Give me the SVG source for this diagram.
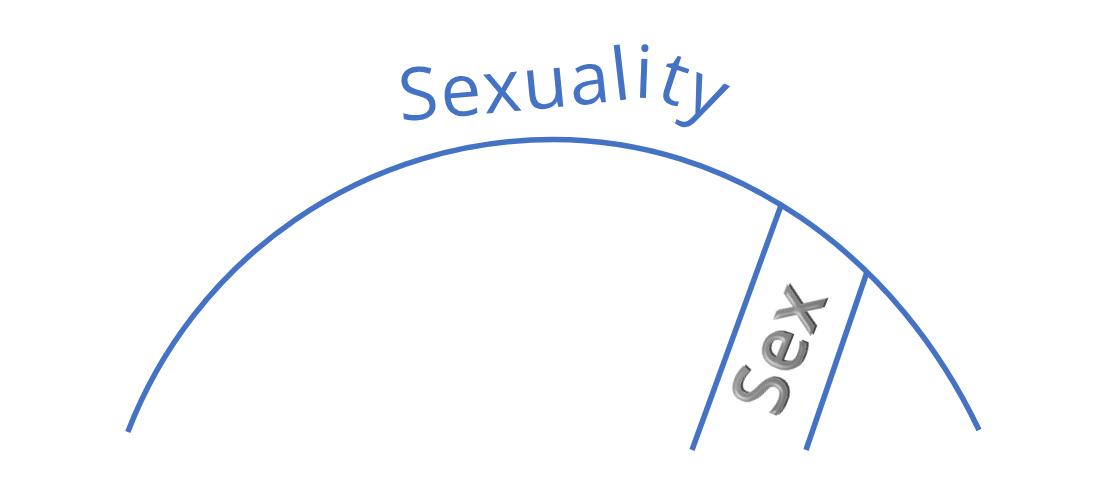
<svg xmlns="http://www.w3.org/2000/svg" width="1100" height="502" viewBox="0 0 1100 502">
  <style>
    .blue { fill: none; stroke: #4472C4; stroke-width: 5.5; stroke-linecap: butt; }
    .title { font-family: "Open Sans", "Liberation Sans", sans-serif; font-size: 73px; fill: #4472C4; letter-spacing: 2px; }
    .sex { font-family: "Open Sans", "Liberation Sans", sans-serif; font-size: 76px; font-weight: 600; fill: url(#gray); letter-spacing: 2px; }
  </style>
  <defs>
    <path id="titlePath" d="M400,121 Q560,108 640,98 Q660,95.5 735,132"/>
    <linearGradient id="gray" x1="0" y1="0" x2="0" y2="1">
      <stop offset="0" stop-color="#a0a0a0"/>
      <stop offset="1" stop-color="#6e6e6e"/>
    </linearGradient>
    <filter id="bevel" x="-20%" y="-20%" width="140%" height="140%">
      <feGaussianBlur in="SourceAlpha" stdDeviation="2" result="blur"/>
      <feSpecularLighting in="blur" surfaceScale="3" specularConstant="0.6" specularExponent="18" lighting-color="#ffffff" result="spec">
        <feDistantLight azimuth="200" elevation="40"/>
      </feSpecularLighting>
      <feComposite in="spec" in2="SourceAlpha" operator="in" result="specIn"/>
      <feOffset in="SourceAlpha" dx="1.5" dy="1.5" result="off"/>
      <feComposite in="off" in2="SourceAlpha" operator="out" result="rim"/>
      <feFlood flood-color="#4a4a4a" result="dark"/>
      <feComposite in="dark" in2="rim" operator="in" result="shadowRim"/>
      <feComposite in="SourceGraphic" in2="specIn" operator="arithmetic" k1="0" k2="1" k3="0.7" k4="0" result="lit"/>
      <feMerge>
        <feMergeNode in="shadowRim"/>
        <feMergeNode in="lit"/>
      </feMerge>
    </filter>
  </defs>
  <rect width="1100" height="502" fill="#ffffff"/>
  <g id="connectors">
    <path id="arc" class="blue" d="M127.8,432 A456,456 0 0 1 553.5,139.5 A485.6,560.5 0 0 1 979,430"/>
    <line id="line-left" class="blue" x1="692" y1="450" x2="781" y2="205.5"/>
    <line id="line-right" class="blue" x1="806" y1="450" x2="867" y2="272"/>
  </g>
  <g id="sexuality">
    <text class="title"><textPath href="#titlePath">Sexuality</textPath></text>
  </g>
  <g id="sex">
    <text class="sex" filter="url(#bevel)" text-anchor="middle" transform="translate(802,358) rotate(-68)">Sex</text>
  </g>
</svg>
